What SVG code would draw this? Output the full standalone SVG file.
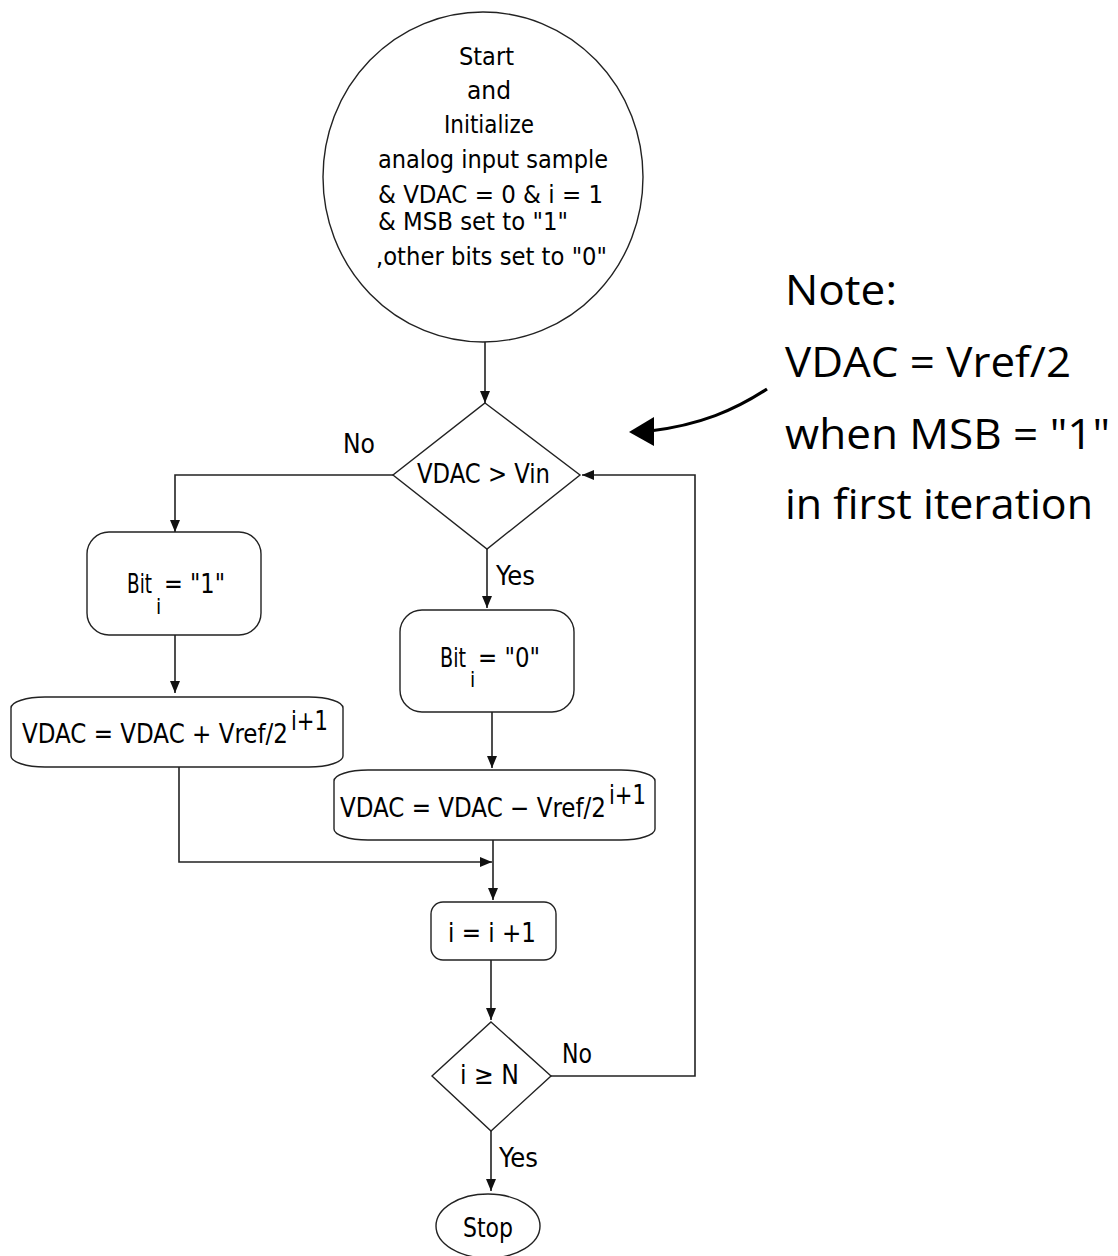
<svg xmlns="http://www.w3.org/2000/svg" width="1118" height="1256" viewBox="0 0 1118 1256">
<defs>
<style>
.shape{fill:#fff;stroke:#222;stroke-width:1.4}
.conn{fill:none;stroke:#222;stroke-width:1.6}
.t{font-family:"DejaVu Sans Condensed","DejaVu Sans",sans-serif;font-size:26px;fill:#000}
.c{font-family:"DejaVu Sans Condensed","DejaVu Sans",sans-serif;font-size:25px;fill:#000}
.sub{font-family:"DejaVu Sans Condensed","DejaVu Sans",sans-serif;font-size:21px;fill:#000}
.note{font-family:"Open Sans","Noto Sans",sans-serif;font-size:42px;fill:#000}
</style>
<marker id="arr" markerUnits="userSpaceOnUse" markerWidth="12" markerHeight="10" refX="12" refY="5" orient="auto">
<path d="M0,0 L12,5 L0,10 z" fill="#111"/>
</marker>
</defs>
<rect width="1118" height="1256" fill="#fff"/>

<g id="connectors">
<path class="conn" d="M485,342 V403" marker-end="url(#arr)"/>
<path class="conn" d="M393,475 H175 V532" marker-end="url(#arr)"/>
<path class="conn" d="M175,635 V693" marker-end="url(#arr)"/>
<path class="conn" d="M487,549 V608" marker-end="url(#arr)"/>
<path class="conn" d="M492,712 V768" marker-end="url(#arr)"/>
<path class="conn" d="M179,767 V862 H492" marker-end="url(#arr)"/>
<path class="conn" d="M493,840 V900" marker-end="url(#arr)"/>
<path class="conn" d="M491,960 V1020" marker-end="url(#arr)"/>
<path class="conn" d="M551,1076 H695 V475 H582" marker-end="url(#arr)"/>
<path class="conn" d="M491,1131 V1191" marker-end="url(#arr)"/>
<text class="t" x="343" y="453" textLength="32" lengthAdjust="spacingAndGlyphs">No</text>
<text class="t" x="496" y="585" textLength="39" lengthAdjust="spacingAndGlyphs">Yes</text>
<text class="t" x="562" y="1063" textLength="30" lengthAdjust="spacingAndGlyphs">No</text>
<text class="t" x="499" y="1167" textLength="39" lengthAdjust="spacingAndGlyphs">Yes</text>
</g>

<g id="start">
<ellipse class="shape" cx="483" cy="177" rx="160" ry="165"/>
<text class="c" x="459" y="65" textLength="55" lengthAdjust="spacingAndGlyphs">Start</text>
<text class="c" x="467" y="99" textLength="44" lengthAdjust="spacingAndGlyphs">and</text>
<text class="c" x="444" y="133" textLength="90" lengthAdjust="spacingAndGlyphs">Initialize</text>
<text class="c" x="378" y="168" textLength="230" lengthAdjust="spacingAndGlyphs">analog input sample</text>
<text class="c" x="378" y="203" textLength="225" lengthAdjust="spacingAndGlyphs">&amp; VDAC = 0 &amp; i = 1</text>
<text class="c" x="378" y="230" textLength="190" lengthAdjust="spacingAndGlyphs">&amp; MSB set to "1"</text>
<text class="c" x="376" y="265" textLength="231" lengthAdjust="spacingAndGlyphs">,other bits set to "0"</text>
</g>

<g id="decision1">
<polygon class="shape" points="485,403 580,475 487,549 393,475"/>
<text class="t" x="417" y="483" textLength="133" lengthAdjust="spacingAndGlyphs">VDAC &gt; Vin</text>
</g>

<g id="bit1">
<rect class="shape" x="87" y="532" width="174" height="103" rx="22"/>
<text class="t" x="127" y="593" textLength="25" lengthAdjust="spacingAndGlyphs">Bit</text>
<text class="sub" x="156" y="614">i</text>
<text class="t" x="164" y="593" textLength="61" lengthAdjust="spacingAndGlyphs">= "1"</text>
</g>

<g id="vdacplus">
<rect class="shape" x="11" y="697" width="332" height="70" rx="34" ry="11"/>
<text class="t" x="22" y="743" textLength="266" lengthAdjust="spacingAndGlyphs">VDAC = VDAC + Vref/2</text>
<text class="t" x="291" y="730" textLength="37" lengthAdjust="spacingAndGlyphs">i+1</text>
</g>

<g id="bit0">
<rect class="shape" x="400" y="610" width="174" height="102" rx="22"/>
<text class="t" x="440" y="667" textLength="26" lengthAdjust="spacingAndGlyphs">Bit</text>
<text class="sub" x="470" y="687">i</text>
<text class="t" x="478" y="667" textLength="62" lengthAdjust="spacingAndGlyphs">= "0"</text>
</g>

<g id="vdacminus">
<rect class="shape" x="334" y="770" width="321" height="70" rx="34" ry="11"/>
<text class="t" x="340" y="817" textLength="266" lengthAdjust="spacingAndGlyphs">VDAC = VDAC − Vref/2</text>
<text class="t" x="609" y="804" textLength="37" lengthAdjust="spacingAndGlyphs">i+1</text>
</g>

<g id="increment">
<rect class="shape" x="431" y="902" width="125" height="58" rx="12"/>
<text class="t" x="448" y="942" textLength="88" lengthAdjust="spacingAndGlyphs">i = i +1</text>
</g>

<g id="decision2">
<polygon class="shape" points="491,1022 551,1076 491,1131 432,1076"/>
<text class="t" x="460" y="1084" textLength="59" lengthAdjust="spacingAndGlyphs">i ≥ N</text>
</g>

<g id="stop">
<ellipse class="shape" cx="488" cy="1226" rx="52" ry="32"/>
<text class="t" x="463" y="1237" textLength="50" lengthAdjust="spacingAndGlyphs">Stop</text>
</g>

<g id="note">
<path d="M767,389 C735,410 700,425 650,431" fill="none" stroke="#000" stroke-width="3.2"/>
<polygon points="629,432 654,417 654,446" fill="#000"/>
<text class="note" x="785" y="305" textLength="112" lengthAdjust="spacingAndGlyphs">Note:</text>
<text class="note" x="785" y="377" textLength="286" lengthAdjust="spacingAndGlyphs">VDAC = Vref/2</text>
<text class="note" x="785" y="449" textLength="325" lengthAdjust="spacingAndGlyphs">when MSB = "1"</text>
<text class="note" x="785" y="519" textLength="308" lengthAdjust="spacingAndGlyphs">in first iteration</text>
</g>
</svg>
